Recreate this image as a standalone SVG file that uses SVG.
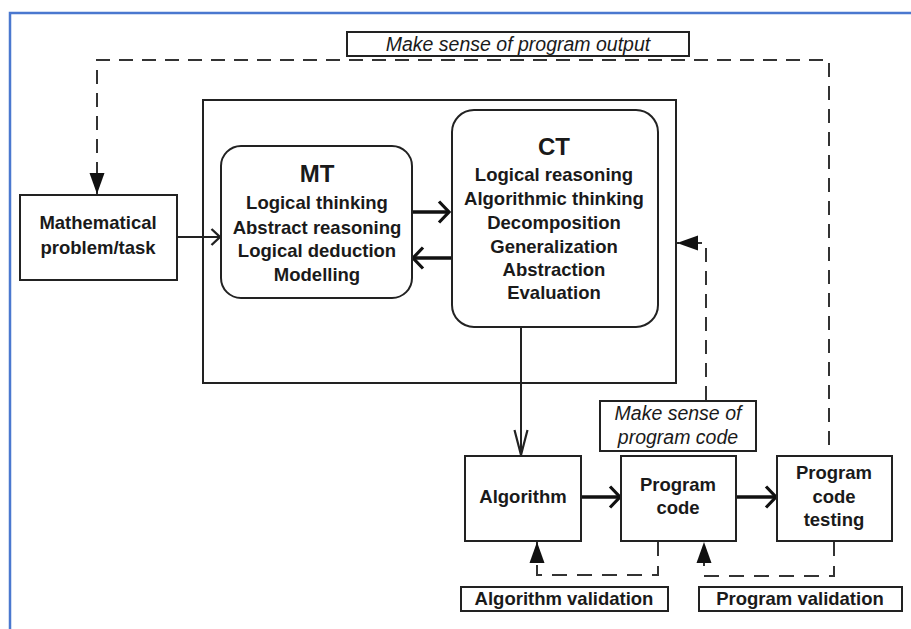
<svg xmlns="http://www.w3.org/2000/svg" width="911" height="629" viewBox="0 0 911 629">
<style>
.box{fill:#fff;stroke:#222;stroke-width:2}
.t{font-family:"Liberation Sans",Arial,sans-serif;font-weight:bold;font-size:18.5px;fill:#1a1a1a;text-anchor:middle}
.ttl{font-size:24px}
.it{font-family:"Liberation Sans",Arial,sans-serif;font-style:italic;font-size:19.5px;fill:#1a1a1a;text-anchor:middle}
.thin{fill:none;stroke:#222;stroke-width:2}
.thick{fill:none;stroke:#111;stroke-width:3.5}
.dash{fill:none;stroke:#333;stroke-width:2;stroke-dasharray:14 9}
.dash2{fill:none;stroke:#333;stroke-width:2;stroke-dasharray:15 10}
</style>
<defs>
<marker id="chevThick" markerUnits="userSpaceOnUse" viewBox="0 0 14 24" refX="12" refY="12" markerWidth="14" markerHeight="24" orient="auto">
<path d="M2,1.5 L12,12 L2,22.5" fill="none" stroke="#111" stroke-width="3.2"/>
</marker>
<marker id="chevThin" markerUnits="userSpaceOnUse" viewBox="0 0 12 18" refX="10.5" refY="9" markerWidth="12" markerHeight="18" orient="auto">
<path d="M2,1 L10.5,9 L2,17" fill="none" stroke="#222" stroke-width="2.4"/>
</marker>
<marker id="chevLong" markerUnits="userSpaceOnUse" viewBox="0 0 28 16" refX="27" refY="8" markerWidth="28" markerHeight="16" orient="auto">
<path d="M2,1.5 L27,8 L2,14.5" fill="none" stroke="#222" stroke-width="2.2"/>
</marker>
<marker id="tri" markerUnits="userSpaceOnUse" viewBox="0 0 22 16" refX="21" refY="8" markerWidth="22" markerHeight="16" orient="auto">
<path d="M0,0.5 L21,8 L0,15.5 Z" fill="#111"/>
</marker>
</defs>
<rect width="911" height="629" fill="#fff"/>
<path d="M10,629 V13 H911" fill="none" stroke="#4a78cf" stroke-width="2.5"/>

<g id="connectors">
<path class="dash" d="M829,445 V60 H97 V194" marker-end="url(#tri)"/>
<path class="dash" d="M706,400 V243 H677" marker-end="url(#tri)"/>
<path class="dash2" d="M658,541 V575 H537 V542" marker-end="url(#tri)"/>
<path class="dash2" d="M834,541 V576 H704 V542" marker-end="url(#tri)"/>
<path class="thin" d="M177,237 H220" marker-end="url(#chevThin)"/>
<path class="thick" d="M412,212 H449" marker-end="url(#chevThick)"/>
<path class="thick" d="M452,258 H413" marker-end="url(#chevThick)"/>
<path class="thin" d="M521,328 V455" marker-end="url(#chevLong)"/>
<path class="thick" d="M581,497 H620" marker-end="url(#chevThick)"/>
<path class="thick" d="M736,497 H776" marker-end="url(#chevThick)"/>
</g>

<g id="output-label">
<rect class="box" x="347" y="32" width="342" height="24"/>
<text class="it" x="518" y="51">Make sense of program output</text>
</g>

<g id="outer-box">
<rect x="203" y="100" width="473" height="283" fill="none" stroke="#222" stroke-width="2"/>
</g>

<g id="math">
<rect class="box" x="20" y="195" width="157" height="85"/>
<text class="t" x="98" y="229">Mathematical</text>
<text class="t" x="98" y="254">problem/task</text>
</g>

<g id="mt">
<rect class="box" x="221" y="146" width="191" height="152" rx="20"/>
<text class="t ttl" x="317" y="182">MT</text>
<text class="t" x="317" y="209">Logical thinking</text>
<text class="t" x="317" y="234">Abstract reasoning</text>
<text class="t" x="317" y="257">Logical deduction</text>
<text class="t" x="317" y="281">Modelling</text>
</g>

<g id="ct">
<rect class="box" x="452" y="110" width="206" height="217" rx="22"/>
<text class="t ttl" x="554" y="155">CT</text>
<text class="t" x="554" y="181">Logical reasoning</text>
<text class="t" x="554" y="205">Algorithmic thinking</text>
<text class="t" x="554" y="229">Decomposition</text>
<text class="t" x="554" y="253">Generalization</text>
<text class="t" x="554" y="276">Abstraction</text>
<text class="t" x="554" y="299">Evaluation</text>
</g>

<g id="code-label">
<rect class="box" x="600" y="401" width="156" height="50"/>
<text class="it" x="678" y="420">Make sense of</text>
<text class="it" x="678" y="444">program code</text>
</g>

<g id="algorithm">
<rect class="box" x="465" y="456" width="116" height="85"/>
<text class="t" x="523" y="503">Algorithm</text>
</g>

<g id="program-code">
<rect class="box" x="621" y="456" width="115" height="85"/>
<text class="t" x="678" y="491">Program</text>
<text class="t" x="678" y="514">code</text>
</g>

<g id="testing">
<rect class="box" x="777" y="456" width="115" height="85"/>
<text class="t" x="834" y="479">Program</text>
<text class="t" x="834" y="503">code</text>
<text class="t" x="834" y="526">testing</text>
</g>

<g id="algorithm-validation">
<rect class="box" x="461" y="587" width="207" height="24"/>
<text class="t" x="564" y="605">Algorithm validation</text>
</g>

<g id="program-validation">
<rect class="box" x="699" y="587" width="203" height="24"/>
<text class="t" x="800" y="605">Program validation</text>
</g>
</svg>
